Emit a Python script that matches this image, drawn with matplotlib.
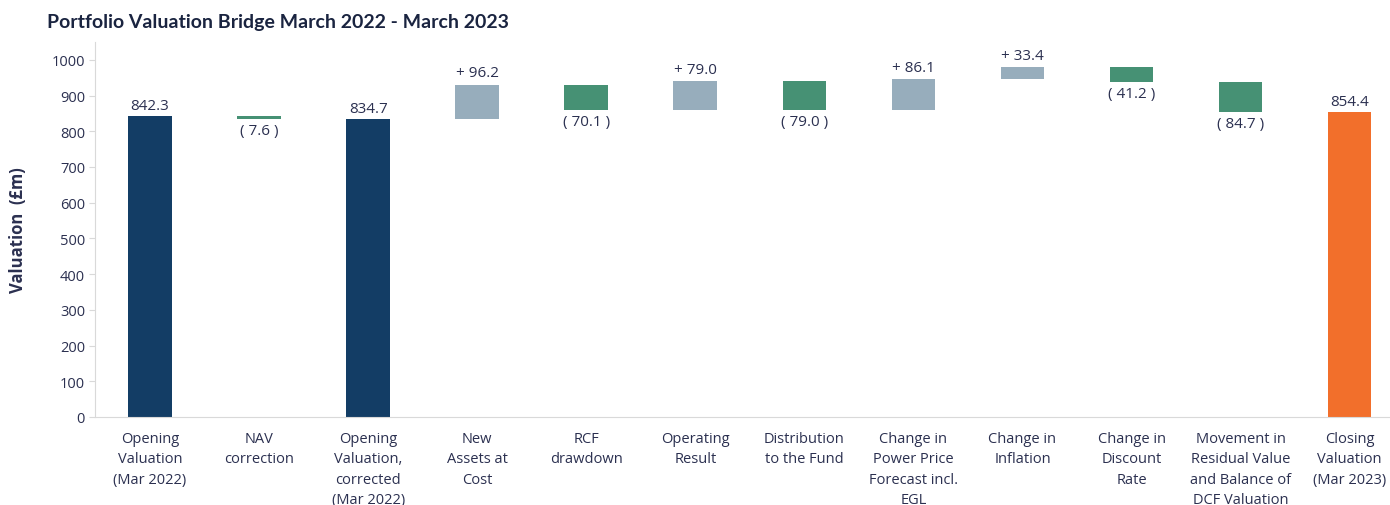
import matplotlib.pyplot as plt

# categories and movements (in GBP m)
categories = ['Opening\nValuation\n(Mar 2022)', 'NAV\ncorrection',
              'Opening\nValuation,\ncorrected\n(Mar 2022)', 'New\nAssets at\nCost',
              'RCF\ndrawdown', 'Operating\nResult', 'Distribution\nto the Fund',
              'Change in\nPower Price\nForecast incl.\nEGL', 'Change in\nInflation',
              'Change in\nDiscount\nRate', 'Movement in\nResidual Value\nand Balance of\nDCF Valuation',
              'Closing\nValuation\n(Mar 2023)']
values = [842.3, -7.6, 834.7, 96.2, -70.1, 79.0, -79.0, 86.1, 33.4, -41.2, -84.7, 854.4]
kinds = ['total', 'delta', 'total', 'delta', 'delta', 'delta', 'delta',
         'delta', 'delta', 'delta', 'delta', 'final']

navy = '#133d65'
green = '#469174'
grey = '#97adbc'
orange = '#f26f2b'
text_col = '#2b3050'

plt.rcParams['font.family'] = ['Open Sans', 'DejaVu Sans']

fig = plt.figure(figsize=(13.9, 5.06), dpi=100)
ax = fig.add_axes([0.0687, 0.174, 0.9313, 0.741])

running = 0
for i, (v, k) in enumerate(zip(values, kinds)):
    if k in ('total', 'final'):
        color = orange if k == 'final' else navy
        ax.bar(i, v, width=0.4, color=color)
        running = v
        ax.annotate('%.1f' % v, (i, v), xytext=(0, 2), textcoords='offset points',
                    ha='center', va='bottom', fontsize=11, color=text_col)
    else:
        start = running
        running = running + v
        if v >= 0:
            ax.bar(i, v, bottom=start, width=0.4, color=grey)
            ax.annotate('+ %.1f' % v, (i, running), xytext=(0, 3),
                        textcoords='offset points', ha='center', va='bottom',
                        fontsize=11, color=text_col)
        else:
            ax.bar(i, v, bottom=start, width=0.4, color=green)
            ax.annotate('( %.1f )' % -v, (i, running), xytext=(0, -3),
                        textcoords='offset points', ha='center', va='top',
                        fontsize=11, color=text_col)

ax.set_xlim(-0.5, 11.37)
ax.set_ylim(0, 1050)
ax.set_yticks(range(0, 1001, 100))
ax.set_xticks(range(len(categories)))
ax.set_xticklabels(categories, fontsize=10.5, color=text_col, linespacing=1.5)
ax.tick_params(axis='x', length=0, pad=10)
ax.tick_params(axis='y', labelsize=10.5, labelcolor=text_col, color='#d9d9d9', length=4)
for side in ('top', 'right'):
    ax.spines[side].set_visible(False)
ax.spines['left'].set_color('#d9d9d9')
ax.spines['bottom'].set_color('#d9d9d9')

ax.set_ylabel('Valuation  (£m)', fontsize=12, fontweight='bold', color=text_col,
              labelpad=18)
fig.text(0.034, 0.955, 'Portfolio Valuation Bridge March 2022 - March 2023',
         fontsize=14, fontweight='bold', color='#1a2440', family=['Lato', 'DejaVu Sans'],
         va='center')

fig.savefig('out.png')
